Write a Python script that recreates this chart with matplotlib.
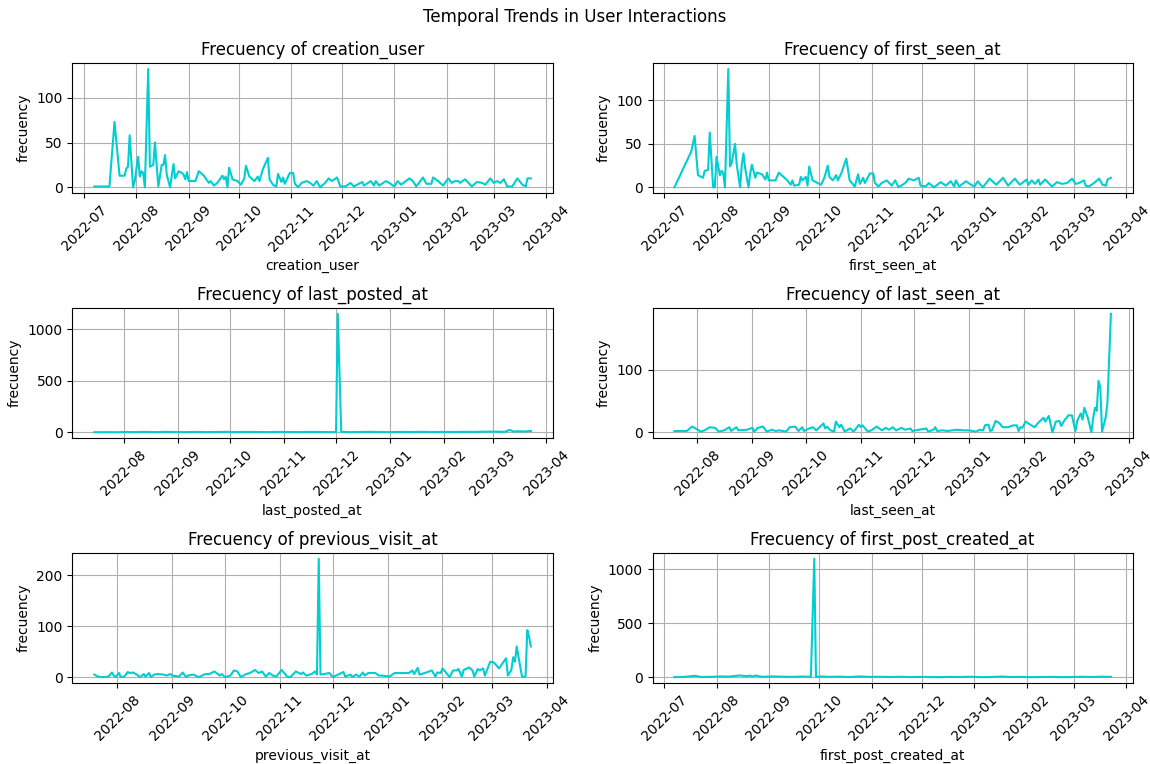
import numpy as np
import pandas as pd
import matplotlib
matplotlib.use('Agg')
import matplotlib.pyplot as plt

# daily counts per timestamp column, days counted from 2022-07-01
start = pd.Timestamp('2022-07-01')

creation_user_days = [6, 15, 18, 21, 24, 25, 26, 27, 29, 30, 32, 33, 34, 35, 36, 38, 39, 41, 42, 43, 44, 46, 47, 48, 49, 51,
                      53, 54, 56, 58, 59, 60, 61, 62, 66, 68, 71, 74, 75, 77, 79, 82, 83, 84, 85, 86, 88, 91, 93, 95, 96, 98,
                      101, 103, 104, 106, 109, 110, 112, 114, 115, 117, 118, 119, 122, 124, 125, 127, 129, 132, 134, 136, 138,
                      140, 143, 145, 147, 150, 152, 155, 158, 160, 165, 166, 170, 172, 173, 175, 179, 181, 184, 186, 188, 193,
                      195, 197, 201, 203, 206, 207, 210, 213, 216, 218, 220, 222, 223, 226, 229, 230, 233, 236, 238, 241, 243,
                      245, 247, 249, 251, 254, 257, 260, 262, 263, 265]
creation_user_counts = [1, 1, 73, 13, 13, 21, 23, 58, 0, 7, 34, 12, 18, 16, 0, 132, 23, 25, 50, 25, 1, 25, 25, 36, 14, 0,
                        26, 10, 18, 16, 14, 9, 17, 7, 7, 18, 13, 5, 7, 2, 5, 13, 9, 12, 0, 22, 9, 7, 3, 10, 24, 12,
                        7, 12, 7, 20, 33, 9, 3, 1, 15, 6, 11, 4, 16, 16, 4, 0, 5, 7, 5, 2, 7,
                        0, 5, 10, 7, 11, 1, 1, 5, 1, 6, 2, 7, 2, 7, 2, 7, 5, 1, 7, 3, 10,
                        7, 1, 11, 4, 4, 11, 7, 2, 10, 5, 7, 7, 5, 9, 3, 1, 6, 5, 3, 10, 5,
                        7, 5, 9, 1, 1, 10, 3, 1, 10, 10]

first_seen_days = [6, 16, 18, 20, 23, 24, 26, 27, 29, 30, 31, 33, 34, 35, 36, 38, 39, 40, 42, 43, 45, 46, 47, 48, 50, 51, 52,
                   54, 55, 58, 60, 61, 62, 66, 68, 73, 75, 76, 77, 80, 81, 82, 84, 85, 86, 88, 91, 93, 95, 97, 98, 100, 102,
                   103, 105, 108, 110, 113, 115, 116, 118, 119, 122, 124, 125, 127, 129, 132, 135, 137, 139, 143, 145, 148,
                   151, 152, 155, 157, 160, 164, 167, 170, 172, 173, 175, 179, 182, 184, 186, 189, 193, 197, 201, 204, 208,
                   211, 215, 216, 218, 220, 222, 223, 226, 228, 230, 233, 236, 239, 242, 244, 246, 249, 250, 252, 255, 258,
                   260, 262, 263, 265]
first_seen_counts = [0, 41, 59, 14, 11, 19, 20, 63, 0, 0, 35, 14, 19, 16, 0, 136, 24, 28, 50, 26, 0, 26, 39, 22, 0, 16, 26,
                     11, 17, 15, 9, 17, 8, 8, 17, 8, 3, 8, 2, 3, 12, 8, 12, 2, 24, 8, 5, 3, 11, 25, 12, 8, 14,
                     8, 16, 33, 8, 1, 15, 4, 11, 5, 16, 16, 5, 1, 5, 8, 2, 8, 0, 5, 10, 8,
                     11, 2, 1, 5, 0, 6, 2, 7, 1, 8, 1, 7, 3, 1, 7, 0, 10, 3, 11, 2, 10,
                     3, 9, 3, 8, 4, 9, 3, 9, 5, 1, 6, 4, 5, 10, 4, 5, 8, 2, 1, 5, 10,
                     3, 2, 9, 11]

last_posted_days = [14, 20, 26, 31, 37, 43, 49, 55, 60, 66, 72, 78, 84, 90, 96, 102, 108, 114, 120, 126, 132, 138, 144,
                    150, 153, 154, 156, 160, 166, 172, 178, 184, 190, 196, 202, 208, 214, 220, 226, 232, 238, 244, 250,
                    253, 255, 258, 261, 265]
last_posted_counts = [2, 3, 2, 4, 3, 5, 3, 6, 4, 3, 5, 3, 4, 6, 3, 5, 4, 3, 5, 4, 3, 5, 4,
                      3, 4, 1150, 5, 3, 4, 6, 4, 3, 5, 4, 6, 4, 5, 4, 6, 5, 7, 8, 6,
                      25, 8, 12, 9, 14]

last_seen_days = [18, 25, 28, 30, 33, 35, 38, 41, 43, 46, 49, 50, 53, 54, 59, 62, 63, 65, 68, 70, 73, 75, 77, 81, 83, 86,
                  88, 90, 91, 94, 96, 98, 102, 103, 104, 106, 108, 109, 111, 112, 114, 117, 119, 122, 123, 124, 127, 129,
                  132, 135, 137, 139, 141, 143, 146, 148, 151, 152, 156, 160, 161, 164, 165, 166, 169, 172, 177, 181, 184,
                  188, 190, 192, 193, 195, 196, 197, 199, 201, 203, 206, 209, 211, 212, 213, 214, 216, 218, 221, 223, 226,
                  227, 229, 231, 233, 235, 236, 238, 239, 240, 242, 244, 245, 247, 248, 249, 251, 253, 254, 255, 256, 257,
                  258, 259, 261, 262, 264]
last_seen_counts = [2, 2, 9, 6, 1, 3, 8, 7, 1, 3, 8, 2, 8, 3, 4, 7, 1, 7, 9, 1, 4, 2, 3, 1, 8, 9,
                    2, 8, 2, 6, 8, 3, 14, 6, 9, 3, 1, 17, 8, 12, 1, 6, 1, 12, 8, 11, 1, 3,
                    9, 3, 7, 4, 8, 3, 7, 4, 6, 2, 4, 6, 1, 4, 8, 2, 3, 2, 4, 3, 3,
                    1, 4, 3, 11, 12, 2, 3, 18, 15, 8, 8, 11, 11, 2, 8, 7, 17, 13, 8, 15, 23,
                    17, 26, 0, 17, 18, 10, 20, 23, 27, 27, 2, 18, 30, 20, 39, 23, 0, 23, 39, 34, 82,
                    72, 1, 23, 45, 189]

previous_visit_days = [18, 20, 23, 26, 28, 29, 30, 32, 33, 35, 37, 38, 40, 42, 44, 46, 47, 49, 50, 52, 54, 57, 59, 61, 62,
                       66, 68, 70, 71, 74, 77, 81, 83, 86, 89, 90, 92, 95, 97, 99, 101, 104, 106, 109, 111, 113, 115, 117,
                       119, 121, 124, 126, 127, 129, 132, 135, 136, 138, 141, 143, 144, 145, 146, 148, 151, 153, 156, 159,
                       160, 163, 164, 166, 168, 170, 171, 173, 177, 179, 181, 185, 188, 192, 196, 198, 199, 201, 202, 205,
                       209, 211, 212, 214, 215, 217, 219, 221, 223, 224, 226, 227, 229, 230, 232, 233, 235, 236, 238, 239,
                       242, 244, 247, 251, 252, 254, 255, 256, 257, 258, 260, 262, 263, 264, 265]
previous_visit_counts = [5, 1, 0, 1, 9, 3, 0, 8, 0, 1, 10, 8, 9, 5, 0, 6, 1, 8, 0, 5, 6, 5, 3, 6, 3,
                         1, 9, 0, 3, 5, 0, 6, 6, 11, 3, 6, 0, 3, 13, 11, 0, 6, 8, 14, 8, 11, 1, 8,
                         3, 1, 14, 6, 1, 0, 11, 6, 9, 3, 6, 11, 5, 232, 5, 6, 8, 0, 5, 10,
                         1, 5, 0, 5, 1, 9, 3, 8, 8, 3, 3, 1, 8, 8, 8, 13, 6, 18, 5, 8,
                         13, 1, 9, 8, 17, 9, 0, 13, 13, 16, 1, 14, 17, 19, 13, 1, 16, 13, 17, 3,
                         30, 29, 17, 37, 3, 14, 39, 30, 60, 40, 1, 1, 92, 79, 60]

first_post_days = [6, 12, 18, 22, 28, 34, 38, 42, 45, 48, 51, 53, 54, 58, 64, 70, 76, 82, 87, 89, 90, 93, 98, 104, 110,
                   116, 122, 128, 134, 140, 146, 152, 158, 164, 170, 176, 182, 188, 194, 200, 206, 212, 218, 224, 230,
                   236, 242, 248, 254, 260, 265]
first_post_counts = [3, 5, 15, 4, 6, 9, 7, 14, 18, 12, 16, 8, 18, 6, 9, 7, 5, 8, 6, 1100, 4, 9, 5, 7, 4,
                     9, 5, 6, 4, 6, 3, 5, 4, 3, 5, 4, 6, 3, 4, 8, 4, 5, 3, 4, 5,
                     3, 4, 6, 4, 7, 5]

columns = ['creation_user', 'first_seen_at', 'last_posted_at',
           'last_seen_at', 'previous_visit_at', 'first_post_created_at']
series = {
    'creation_user': (creation_user_days, creation_user_counts),
    'first_seen_at': (first_seen_days, first_seen_counts),
    'last_posted_at': (last_posted_days, last_posted_counts),
    'last_seen_at': (last_seen_days, last_seen_counts),
    'previous_visit_at': (previous_visit_days, previous_visit_counts),
    'first_post_created_at': (first_post_days, first_post_counts),
}

fig, axes = plt.subplots(3, 2, figsize=(11.5, 7.64), dpi=100)
fig.subplots_adjust(left=0.063, right=0.985, top=0.9175, bottom=0.106, wspace=0.208, hspace=0.88)
fig.suptitle('Temporal Trends in User Interactions', fontsize=12, y=0.99)

for ax, col in zip(axes.flat, columns):
    days, counts = series[col]
    dates = start + pd.to_timedelta(days, unit='D')
    ax.plot(dates, counts, color='darkturquoise', linewidth=1.5)
    ax.set_title('Frecuency of ' + col)
    ax.set_xlabel(col)
    ax.set_ylabel('frecuency')
    ax.tick_params(axis='x', rotation=45)
    ax.grid(True)

fig.savefig('out.png', dpi=100)
